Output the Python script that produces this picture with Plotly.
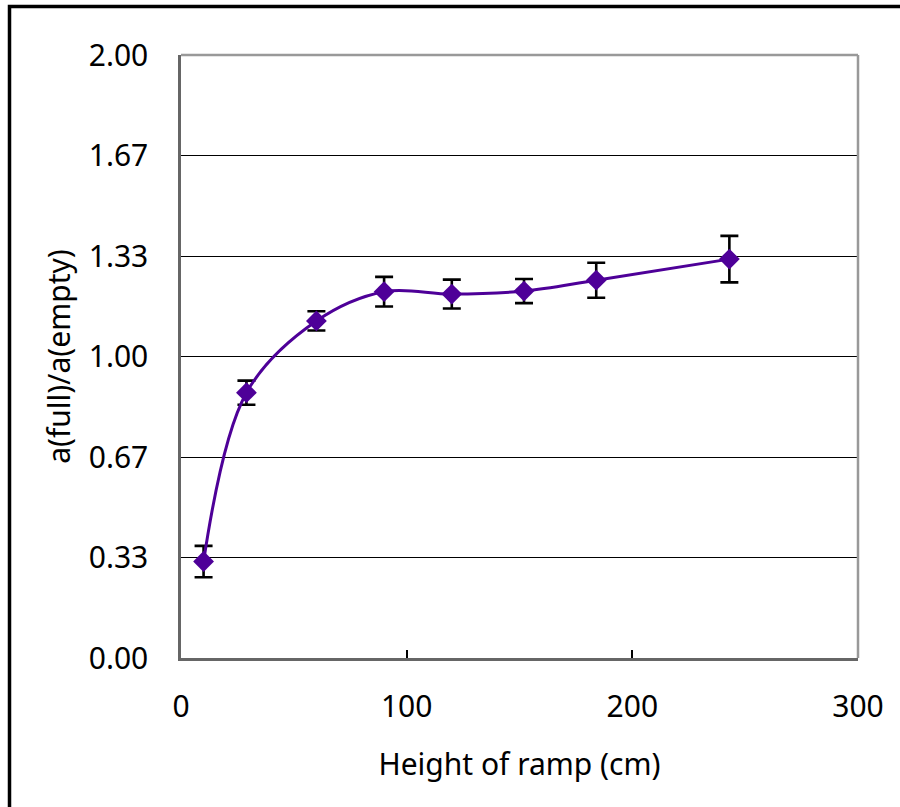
import plotly.graph_objects as go

heights = [10, 29, 60, 90, 120, 152, 184, 243]
ratio = [0.32, 0.88, 1.118, 1.215, 1.207, 1.217, 1.253, 1.323]
ratio_err = [0.052, 0.04, 0.032, 0.049, 0.048, 0.04, 0.058, 0.077]
y_tickvals = [0, 1/3, 2/3, 1, 4/3, 5/3, 2]
y_ticktext = ["0.00", "0.33", "0.67", "1.00", "1.33", "1.67", "2.00"]
x_tickvals = [0, 100, 200, 300]

PURPLE = "#4E0098"
FONT = "Noto Sans"
FS = 30

fig = go.Figure()
fig.add_trace(go.Scatter(
    x=heights, y=ratio,
    mode="lines+markers",
    line=dict(color=PURPLE, width=3, shape="spline", smoothing=1.0),
    marker=dict(symbol="diamond", size=16, color=PURPLE),
    error_y=dict(type="data", array=ratio_err, visible=True,
                 color="black", thickness=2.6, width=9),
    showlegend=False,
))

L, R, T, B = 181, 42, 55, 149
W, H = 900, 807
pw, ph = W - L - R, H - T - B

fig.update_layout(
    width=W, height=H,
    margin=dict(l=L, r=R, t=T, b=B, pad=0),
    paper_bgcolor="white", plot_bgcolor="white",
    font=dict(family=FONT, size=FS, color="black"),
    xaxis=dict(
        range=[0, 300], tickvals=x_tickvals,
        showgrid=False, zeroline=False,
        showline=True, linecolor="#666666", linewidth=2.5, mirror=False,
        ticks="inside", ticklen=8, tickwidth=2, tickcolor="black",
        ticklabelstandoff=20,
        title=dict(text="Height of ramp (cm)", standoff=30, font=dict(size=FS)),
    ),
    yaxis=dict(
        range=[0, 2], tickvals=y_tickvals, ticktext=y_ticktext,
        showgrid=True, gridcolor="black", gridwidth=1.2,
        zeroline=False,
        showline=True, linecolor="#666666", linewidth=2.5,
        ticks="", ticklabelstandoff=24,
        title=dict(text="a(full)/a(empty)", standoff=10, font=dict(size=FS)),
    ),
    shapes=[
        dict(type="line", xref="paper", yref="paper", x0=0, x1=1, y0=1, y1=1,
             line=dict(color="#999999", width=2.5)),
        dict(type="line", xref="paper", yref="paper", x0=1, x1=1, y0=0, y1=1,
             line=dict(color="#999999", width=2.5)),
        dict(type="rect", xref="paper", yref="paper",
             x0=(9.5 - L) / pw, x1=(910 - L) / pw,
             y0=(T + ph - 815) / ph, y1=(T + ph - 6.5) / ph,
             line=dict(color="black", width=3.5), fillcolor="rgba(0,0,0,0)",
             layer="above"),
    ],
)

fig.write_html("out.html")
